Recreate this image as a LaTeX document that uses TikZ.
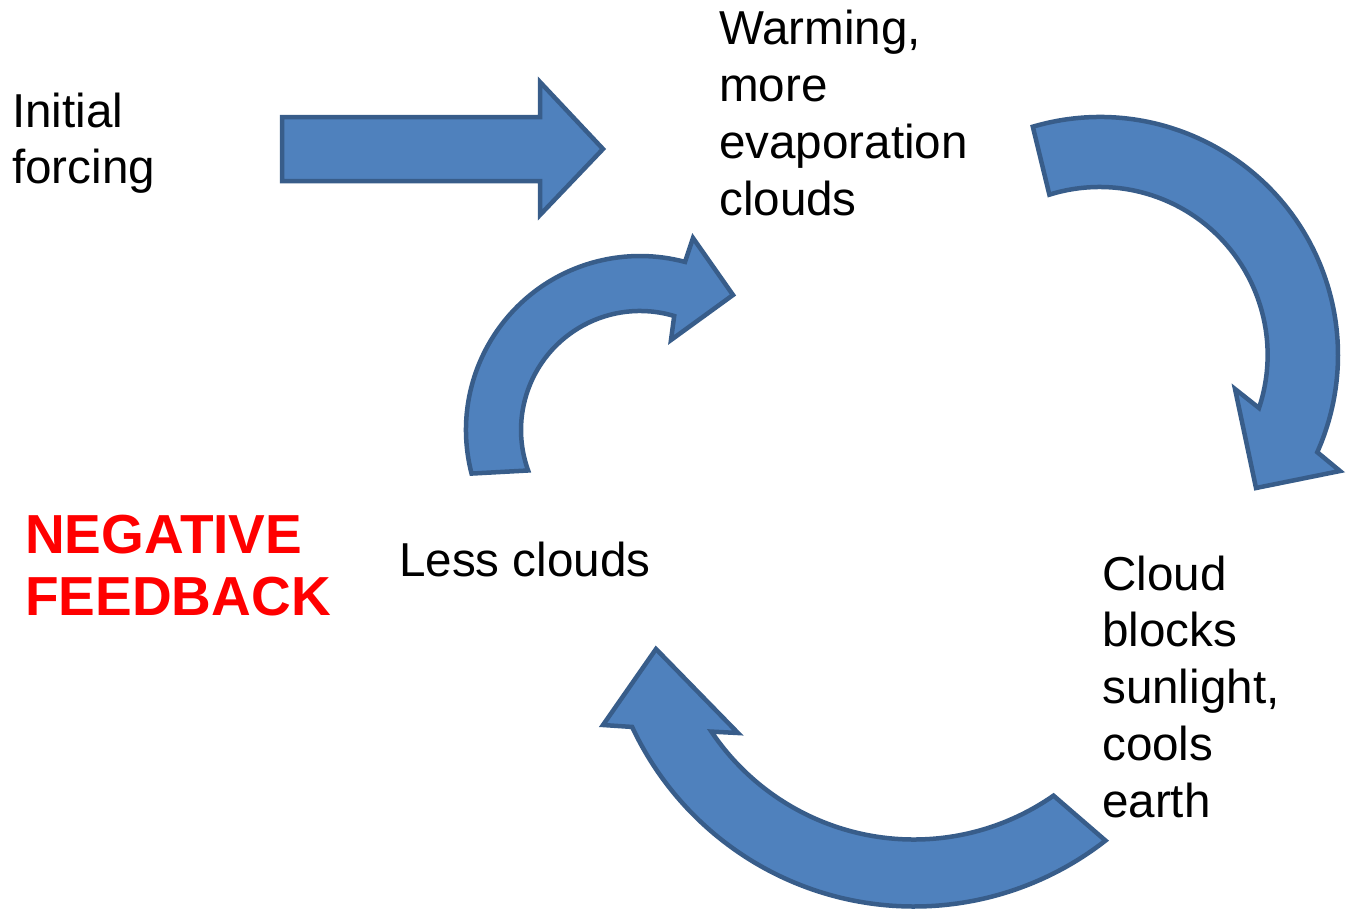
\documentclass[tikz,border=0pt]{standalone}
\usepackage{fontspec}
\setmainfont{Liberation Sans}
\definecolor{arrowfill}{HTML}{4F81BD}
\definecolor{arrowline}{HTML}{385D8A}
\definecolor{fbred}{HTML}{FF0000}
\tikzset{
  blockarrow/.style={fill=arrowfill, draw=arrowline, line width=4.5pt, line join=miter},
  lbl/.style={anchor=base west, inner sep=0pt, align=left, font=\fontsize{47.6}{56.7}\selectfont},
  fb/.style={anchor=base west, inner sep=0pt, align=left, text=fbred, font=\fontsize{55}{62}\selectfont\bfseries}
}
\begin{document}
\begin{tikzpicture}[x=1pt,y=-1pt]
\useasboundingbox (0,0) rectangle (1348,910);
% texts (anchored at the baseline of the last line)
\node[lbl] (init) at (12,183.7) {Initial\\forcing};
\node[lbl] (warm) at (719,215) {Warming,\\more\\evaporation\\clouds};
\node[lbl] (block) at (1102,817) {Cloud\\blocks\\sunlight,\\cools\\earth};
\node[lbl] (less) at (399,576) {Less clouds};
\node[fb] (neg) at (25,615) {NEGATIVE\\FEEDBACK};
% straight arrow
\draw[blockarrow] (282,117) -- (540,117) -- (540,82) -- (603,149) -- (540,215) -- (540,181) -- (282,181) -- cycle;
% right curved arrow
\draw[blockarrow] (1100,355) ++(-106.4:238) arc[start angle=-106.4, end angle=24.1, radius=238]
  -- (1340,471) -- (1256,488) -- (1235,389) -- (1259,408)
  arc[start angle=18.4, end angle=-107.4, radius=168] -- cycle;
% bottom curved arrow
\draw[blockarrow] (914,595.5) ++(52:311) arc[start angle=52, end angle=155, radius=311]
  -- (603,725) -- (656,649) -- (738,733) -- (711.4,731.6)
  arc[start angle=146.1, end angle=55.1, radius=244] -- cycle;
% top-left curved arrow
\draw[blockarrow] (640,430) ++(165.5:174) arc[start angle=165.5, end angle=285, radius=174]
  -- (693,238) -- (733,295) -- (671,340) -- (674.2,316)
  arc[start angle=286.7, end angle=160.1, radius=119] -- cycle;
\end{tikzpicture}
\end{document}
